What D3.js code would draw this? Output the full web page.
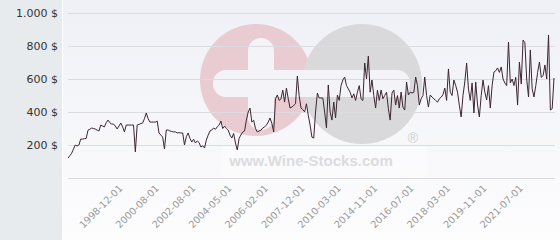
<!DOCTYPE html>
<html>
<head>
<meta charset="utf-8">
<script src="https://cdn.jsdelivr.net/npm/d3@7"></script>
<style>
  body { margin: 0; background: #fff; }
  svg { display: block; }
</style>
</head>
<body>
<svg id="chart" width="560" height="240"></svg>
<script>
// ===== datos =====
var valores = [
  121,135,150,175,200,194,200,236,236,238,240,290,295,303,300,297,290,285,321,315,
  310,335,351,335,327,327,315,297,315,333,310,279,321,321,321,321,321,158,321,325,
  330,333,360,394,360,339,339,339,339,345,273,260,248,176,291,291,285,282,279,280,
  273,275,273,273,200,250,273,240,218,235,212,225,215,188,195,182,230,260,285,291,
  303,295,310,320,345,300,315,300,291,260,242,270,212,170,240,261,279,285,351,400,
  424,339,350,300,279,285,290,303,310,320,339,364,330,279,480,503,470,480,533,460,
  545,480,424,430,440,450,618,500,424,415,400,450,380,321,248,242,400,515,485,485,
  485,400,303,564,400,351,460,364,503,470,560,594,612,560,540,520,485,510,470,520,
  560,480,470,697,600,739,520,594,500,424,533,470,533,480,500,520,420,351,515,533,
  442,500,424,521,430,412,582,503,520,515,520,612,560,442,480,500,612,500,430,503,
  490,480,470,460,480,490,505,545,470,661,520,500,594,560,520,440,370,500,582,697,
  540,470,576,394,582,442,370,500,594,520,473,560,424,560,642,650,667,640,673,600,
  576,560,824,576,600,560,610,442,703,570,836,820,600,491,776,540,491,560,640,703,
  610,620,685,600,867,412,420,606
];
var yTicks = [200, 400, 600, 800, 1000];
var xTickLabels = ["1998-12-01","2000-08-01","2002-08-01","2004-05-01","2006-02-01","2007-12-01",
  "2010-03-01","2014-11-01","2016-07-01","2018-03-01","2019-11-01","2021-07-01"];
var primerTick = 32;   // indice del primer rotulo
var cadaN = 20;        // un rotulo cada 20 puntos

// ===== dimensiones =====
var svg = d3.select("#chart");
var W = 560, H = 240;
var panelW = 63;
var plot = {left: 68, right: 555, top: 13, bottom: 178};

var x = d3.scaleLinear().domain([0, valores.length - 1]).range([plot.left, plot.right - 1]);
var y = d3.scaleLinear().domain([0, 1000]).range([plot.bottom, plot.top]);

// ===== fondos =====
var defs = svg.append("defs");
var grad = defs.append("linearGradient").attr("id", "bg").attr("x1", 0).attr("y1", 0).attr("x2", 0).attr("y2", 1);
grad.append("stop").attr("offset", "0%").attr("stop-color", "#eff0f6");
grad.append("stop").attr("offset", "100%").attr("stop-color", "#fdfdfe");

svg.append("rect").attr("x", panelW).attr("y", 0).attr("width", W - panelW).attr("height", H).attr("fill", "url(#bg)");
svg.append("rect").attr("x", 0).attr("y", 0).attr("width", panelW - 1).attr("height", H).attr("fill", "#e7ebee");

// ===== marca de agua =====
var wm = svg.append("g");
wm.append("circle").attr("cx", 256).attr("cy", 80).attr("r", 56).attr("fill", "#e9cbd2");
wm.append("circle").attr("cx", 362).attr("cy", 84).attr("r", 60).attr("fill", "#d9d9db");
wm.append("rect").attr("x", 248).attr("y", 38).attr("width", 26).attr("height", 92).attr("rx", 13).attr("fill", "#f4f4f8");
wm.append("rect").attr("x", 213).attr("y", 70).attr("width", 197).attr("height", 27).attr("rx", 13).attr("fill", "#f4f4f8");
wm.append("rect").attr("x", 222).attr("y", 146).attr("width", 205).attr("height", 31).attr("fill", "#ffffff").attr("opacity", 0.3);
wm.append("text").attr("x", 311).attr("y", 166).attr("text-anchor", "middle")
  .style("font-family", "Liberation Sans, Arial, sans-serif").style("font-weight", "bold")
  .style("font-size", "15px").attr("fill", "#dcdcdc").text("www.Wine-Stocks.com");
wm.append("text").attr("x", 413).attr("y", 143).attr("text-anchor", "middle")
  .style("font-family", "Liberation Sans, Arial, sans-serif")
  .style("font-size", "14px").attr("fill", "#cfcfcf").text("®");

// ===== grilla =====
svg.append("g").selectAll("line")
  .data([0].concat(yTicks))
  .enter().append("line")
    .attr("x1", plot.left).attr("x2", plot.right)
    .attr("y1", function(d) { return Math.round(y(d)) + 0.5; })
    .attr("y2", function(d) { return Math.round(y(d)) + 0.5; })
    .attr("stroke", "#dcdce0").attr("stroke-width", 1);

// ===== eje y =====
var fmt = function(d) { return d3.format(",")(d).replace(",", ".") + " $"; };
svg.append("g").selectAll("text")
  .data(yTicks)
  .enter().append("text")
    .attr("x", 58)
    .attr("y", function(d) { return y(d); })
    .attr("dy", "0.35em")
    .attr("text-anchor", "end")
    .style("font-family", "DejaVu Sans, sans-serif")
    .style("font-size", "11px")
    .attr("fill", "#333")
    .text(fmt);

// ===== eje x =====
svg.append("g").selectAll("text")
  .data(xTickLabels)
  .enter().append("text")
    .attr("transform", function(d, i) {
      return "translate(" + (x(primerTick + i * cadaN) - 3) + "," + 189 + ") rotate(-45)";
    })
    .attr("text-anchor", "end")
    .style("font-family", "DejaVu Sans, sans-serif")
    .style("font-size", "9.7px")
    .attr("fill", "#9a9a9a")
    .text(function(d) { return d; });

// ===== linea =====
var linea = d3.line()
  .x(function(d, i) { return x(i); })
  .y(function(d) { return y(d); });

svg.append("path")
  .datum(valores)
  .attr("d", linea)
  .attr("fill", "none")
  .attr("stroke", "#3b2632")
  .attr("stroke-width", 1)
  .attr("stroke-linejoin", "round");
</script>
</body>
</html>
